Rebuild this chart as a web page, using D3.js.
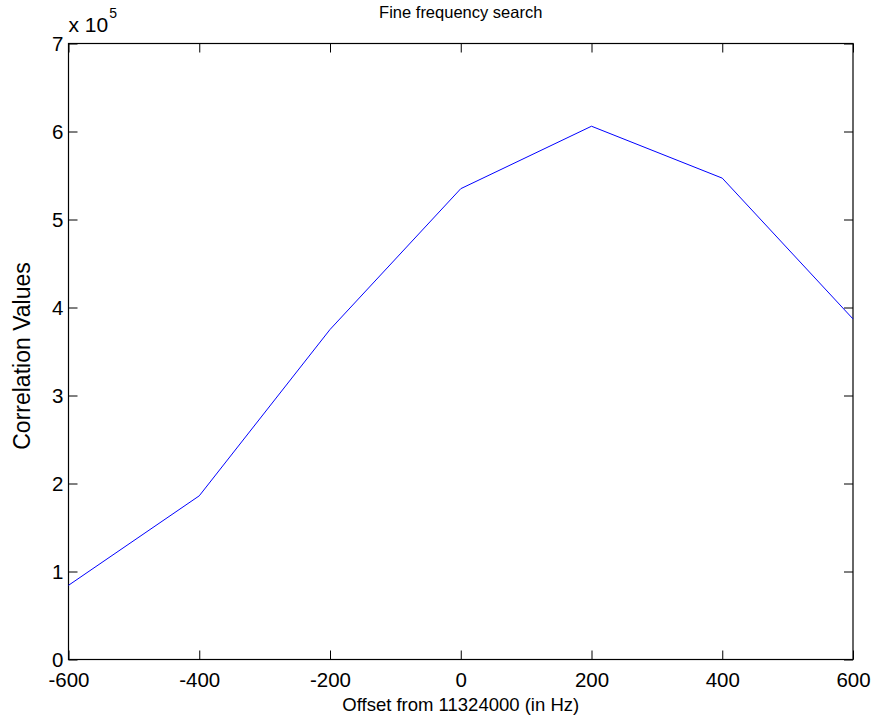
<!DOCTYPE html>
<html>
<head>
<meta charset="utf-8">
<script src="https://cdn.jsdelivr.net/npm/d3@7"></script>
<style>
  body { margin: 0; background: #fff; }
  svg { display: block; font-family: "Liberation Sans", Arial, sans-serif; }
</style>
</head>
<body>
<div id="chart"></div>
<script>
// data
const offsets = [-600, -400, -200, 0, 200, 400, 600]
const correlation = [0.843e5, 1.86e5, 3.75e5, 5.35e5, 6.06e5, 5.47e5, 3.87e5]
const xTicks = [-600, -400, -200, 0, 200, 400, 600]
const yTicks = [0, 1, 2, 3, 4, 5, 6, 7]

const width = 876, height = 724
const plot = { left: 68.5, right: 853, top: 43.5, bottom: 659.5 }

const svg = d3.select('#chart').append('svg')
    .attr('width', width)
    .attr('height', height)

const x = d3.scaleLinear().domain([-600, 600]).range([plot.left, plot.right])
const y = d3.scaleLinear().domain([0, 7e5]).range([plot.bottom, plot.top])

const tickLen = 9
const tickFont = 20.5

// bottom axis, ticks point inward
const gx = svg.append('g')
    .attr('transform', `translate(0,${plot.bottom})`)
    .call(d3.axisBottom(x)
        .tickValues(xTicks)
        .tickSizeInner(-tickLen)
        .tickSizeOuter(0)
        .tickPadding(13)
        .tickFormat(d => String(d)))   // plain hyphen, not unicode minus
gx.select('.domain').remove()
gx.selectAll('text').attr('font-size', tickFont).attr('fill', '#000')
gx.selectAll('line').attr('stroke', '#000')

// top ticks
const gxt = svg.append('g')
    .attr('transform', `translate(0,${plot.top})`)
    .call(d3.axisTop(x).tickValues(xTicks).tickSizeInner(-tickLen).tickSizeOuter(0).tickFormat(''))
gxt.select('.domain').remove()
gxt.selectAll('line').attr('stroke', '#000')

// left axis
const gy = svg.append('g')
    .attr('transform', `translate(${plot.left},0)`)
    .call(d3.axisLeft(y)
        .tickValues(yTicks.map(d => d * 1e5))
        .tickSizeInner(-tickLen)
        .tickSizeOuter(0)
        .tickPadding(5)
        .tickFormat(d => String(d / 1e5)))
gy.select('.domain').remove()
gy.selectAll('text').attr('font-size', tickFont).attr('fill', '#000')
gy.selectAll('line').attr('stroke', '#000')

// right ticks
const gyr = svg.append('g')
    .attr('transform', `translate(${plot.right},0)`)
    .call(d3.axisRight(y).tickValues(yTicks.map(d => d * 1e5)).tickSizeInner(-tickLen).tickSizeOuter(0).tickFormat(''))
gyr.select('.domain').remove()
gyr.selectAll('line').attr('stroke', '#000')

// box
svg.append('rect')
    .attr('x', plot.left)
    .attr('y', plot.top)
    .attr('width', plot.right - plot.left)
    .attr('height', plot.bottom - plot.top)
    .attr('fill', 'none')
    .attr('stroke', '#000')
    .attr('stroke-width', 1.2)

// the series
const line = d3.line()
    .x((d, i) => x(offsets[i]))
    .y(d => y(d))

svg.append('path')
    .datum(correlation)
    .attr('d', line)
    .attr('fill', 'none')
    .attr('stroke', '#0000ff')
    .attr('stroke-width', 1)

// exponent label
const expo = svg.append('text')
    .attr('x', plot.left)
    .attr('y', 32)
    .attr('font-size', 21)
expo.append('tspan').text('x 10')
expo.append('tspan').attr('font-size', 14).attr('dx', 1).attr('dy', -14).text('5')

// title
svg.append('text')
    .attr('x', (plot.left + plot.right) / 2)
    .attr('y', 18)
    .attr('text-anchor', 'middle')
    .attr('font-size', 16.5)
    .text('Fine frequency search')

// x label
svg.append('text')
    .attr('x', (plot.left + plot.right) / 2)
    .attr('y', 711)
    .attr('text-anchor', 'middle')
    .attr('font-size', 18.5)
    .text('Offset from 11324000 (in Hz)')

// y label
svg.append('text')
    .attr('transform', `translate(30,356) rotate(-90)`)
    .attr('text-anchor', 'middle')
    .attr('font-size', 23)
    .text('Correlation Values')
</script>
</body>
</html>
